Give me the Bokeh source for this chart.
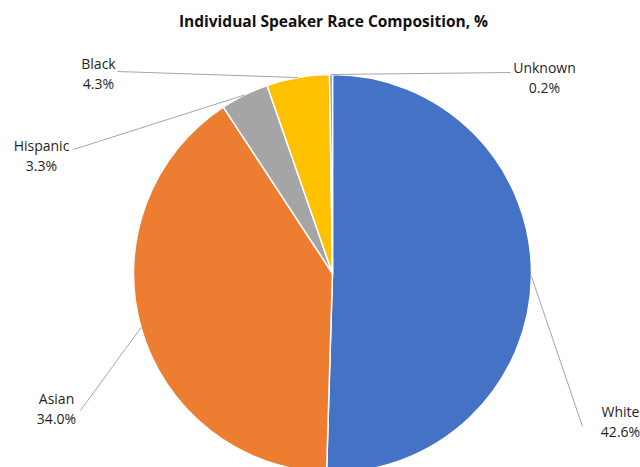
import math

from bokeh.core.properties import value
from bokeh.embed import file_html
from bokeh.models import ColumnDataSource, Range1d
from bokeh.plotting import figure
from bokeh.resources import INLINE

# Data
races = ["White", "Asian", "Hispanic", "Black", "Unknown"]
shares = [42.6, 34.0, 3.3, 4.3, 0.2]
colors = ["#4472C4", "#ED7D31", "#A5A5A5", "#FFC000", "#5B9BD5"]

# Layout (pixel coordinates, y measured downward from the top)
W, H = 640, 467
CX, CY, R = 332, 273, 199
label_centers = [(620, 411), (56, 398), (41, 145), (98, 63), (544, 67)]
leader_starts = [(582, 426), (80, 410), (73, 149), (117, 71), (510, 72)]


def fy(y):
    return H - y


total = sum(shares)
starts, ends, mids = [], [], []
cum = 0.0
for s in shares:
    a0 = cum / total
    cum += s
    a1 = cum / total
    starts.append(math.pi / 2 - a0 * 2 * math.pi)
    ends.append(math.pi / 2 - a1 * 2 * math.pi)
    mids.append(math.pi / 2 - (a0 + a1) / 2 * 2 * math.pi)

p = figure(width=W, height=H, output_backend="svg", toolbar_location=None,
           x_range=Range1d(0, W), y_range=Range1d(0, H),
           min_border=0, outline_line_color=None)
p.axis.visible = False
p.grid.visible = False
p.background_fill_color = "white"

pie = ColumnDataSource(dict(race=races, start=starts, end=ends, color=colors))
p.wedge(x=CX, y=fy(CY), radius=R, start_angle="start", end_angle="end",
        direction="clock", fill_color="color", line_color="white",
        line_width=1.5, source=pie)

# Leader lines from each label to the middle of its slice's rim
xs, ys = [], []
for (lx, ly), m in zip(leader_starts, mids):
    ex = CX + R * math.cos(m)
    ey = fy(CY) + R * math.sin(m)
    xs.append([lx, ex])
    ys.append([fy(ly), ey])
p.multi_line(xs=xs, ys=ys, line_color="#A6A6A6", line_width=1)

# Category and percentage labels
names_x = [c[0] for c in label_centers]
names_y = [fy(c[1]) for c in label_centers]
pct_y = [fy(c[1] + 20) for c in label_centers]
pct_text = [f"{s:.1f}%" for s in shares]
p.text(x=names_x, y=names_y, text=races, text_align="center",
       text_baseline="middle", text_font=value("Open Sans"),
       text_font_size="14px", text_color="#1f1f1f")
p.text(x=names_x, y=pct_y, text=pct_text, text_align="center",
       text_baseline="middle", text_font=value("Open Sans"),
       text_font_size="14px", text_color="#1f1f1f")

# Title
p.text(x=[333], y=[fy(20)], text=["Individual Speaker Race Composition, %"],
       text_align="center", text_baseline="middle",
       text_font=value("Open Sans"), text_font_style="bold",
       text_font_size="15.5px", text_color="#111111")

open("out.html", "w").write(file_html(p, INLINE))
